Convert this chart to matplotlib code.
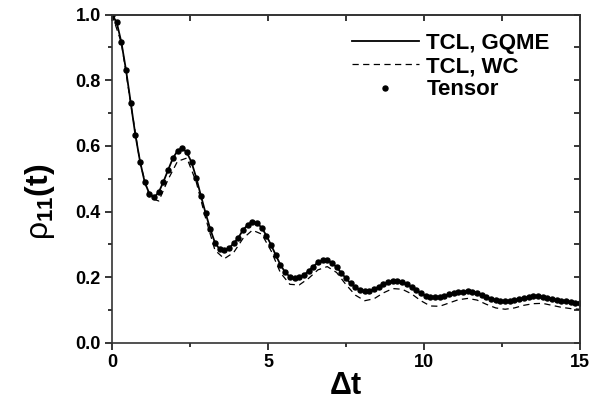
import numpy as np
import matplotlib
matplotlib.use('Agg')
import matplotlib.pyplot as plt
from matplotlib.ticker import MultipleLocator

plt.rcParams['font.family'] = 'Liberation Sans'
plt.rcParams['mathtext.fontset'] = 'custom'
plt.rcParams['mathtext.rm'] = 'Liberation Sans'
plt.rcParams['mathtext.bf'] = 'Liberation Sans:bold'
plt.rcParams['mathtext.it'] = 'Liberation Sans'

# Tensor samples, dt = 0.15
t_tensor = np.round(np.arange(101) * 0.15, 2)
rho_tensor = [1.000, 0.977, 0.916, 0.831, 0.732, 0.633, 0.552, 0.489, 0.454, 0.443,
              0.459, 0.491, 0.527, 0.562, 0.585, 0.593, 0.580, 0.550, 0.503, 0.448,
              0.395, 0.346, 0.305, 0.285, 0.283, 0.288, 0.303, 0.320, 0.344, 0.359,
              0.369, 0.364, 0.351, 0.326, 0.298, 0.267, 0.237, 0.215, 0.201, 0.196,
              0.199, 0.206, 0.219, 0.232, 0.245, 0.251, 0.251, 0.244, 0.230, 0.213,
              0.196, 0.181, 0.169, 0.161, 0.157, 0.158, 0.163, 0.171, 0.178, 0.184,
              0.188, 0.188, 0.184, 0.178, 0.169, 0.161, 0.151, 0.143, 0.139, 0.138,
              0.140, 0.143, 0.148, 0.152, 0.155, 0.156, 0.157, 0.156, 0.152, 0.146,
              0.140, 0.134, 0.130, 0.127, 0.126, 0.127, 0.130, 0.133, 0.136, 0.139,
              0.141, 0.141, 0.140, 0.137, 0.134, 0.131, 0.128, 0.126, 0.124, 0.122,
              0.121]

# TCL, GQME follows the tensor result
rho_gqme = rho_tensor

# TCL, WC on a coarser grid
t_wc = np.round(np.arange(51) * 0.3, 2)
rho_wc = [1.000, 0.915, 0.730, 0.548, 0.442, 0.432, 0.498, 0.553, 0.563, 0.490,
          0.380, 0.282, 0.256, 0.275, 0.318, 0.343, 0.331, 0.280, 0.213, 0.178,
          0.176, 0.196, 0.222, 0.232, 0.214, 0.177, 0.145, 0.128, 0.134, 0.152,
          0.165, 0.163, 0.149, 0.128, 0.112, 0.111, 0.121, 0.131, 0.135, 0.130,
          0.117, 0.106, 0.102, 0.106, 0.114, 0.119, 0.120, 0.114, 0.108, 0.104,
          0.102]

fig = plt.figure(figsize=(6.07, 4.15), dpi=100)
ax = fig.add_axes([0.1845, 0.1742, 0.771, 0.7904])

ax.plot(t_tensor, rho_gqme, color='black', lw=1.3, label='TCL, GQME')
ax.plot(t_wc, rho_wc, color='black', lw=0.9, ls=(0, (5, 3.5)), label='TCL, WC')
ax.plot(t_tensor, rho_tensor, ls='none', marker='o', ms=3.6, color='black', label='Tensor')

ax.set_xlim(0, 15)
ax.set_ylim(0, 1.0)
ax.xaxis.set_major_locator(MultipleLocator(5))
ax.xaxis.set_minor_locator(MultipleLocator(2.5))
ax.set_yticks([0, 0.2, 0.4, 0.6, 0.8, 1.0])
ax.set_yticklabels(['0.0', '0.2', '0.4', '0.6', '0.8', '1.0'])
ax.yaxis.set_minor_locator(MultipleLocator(0.1))

for s in ax.spines.values():
    s.set_linewidth(1.2)
    s.set_color('#333333')
ax.tick_params(which='major', direction='out', length=5, width=1.1, labelsize=13, pad=3)
ax.tick_params(which='minor', direction='out', length=3, width=1.1)
for lab in ax.get_xticklabels() + ax.get_yticklabels():
    lab.set_fontweight('bold')

top = ax.secondary_xaxis('top')
top.xaxis.set_major_locator(MultipleLocator(2.5))
top.tick_params(direction='in', length=4, width=1.1, labeltop=False)
right = ax.secondary_yaxis('right')
right.yaxis.set_major_locator(MultipleLocator(0.1))
right.tick_params(direction='in', length=4, width=1.1, labelright=False)
for sa in (top, right):
    for s in sa.spines.values():
        s.set_linewidth(1.2)
        s.set_color('#333333')

ax.set_xlabel(r'$\mathbf{\Delta t}$', fontsize=22, labelpad=0)
ax.set_ylabel(r'$\rho_{\mathbf{11}}\mathbf{(t)}$', fontsize=23)
ax.yaxis.set_label_coords(-0.117, 0.43)

leg = ax.legend(loc='upper left', bbox_to_anchor=(0.47, 1.005), frameon=False,
                handlelength=3.0, handletextpad=0.35, labelspacing=0.1,
                prop={'weight': 'bold', 'size': 16})

fig.savefig('out.png', dpi=100)
